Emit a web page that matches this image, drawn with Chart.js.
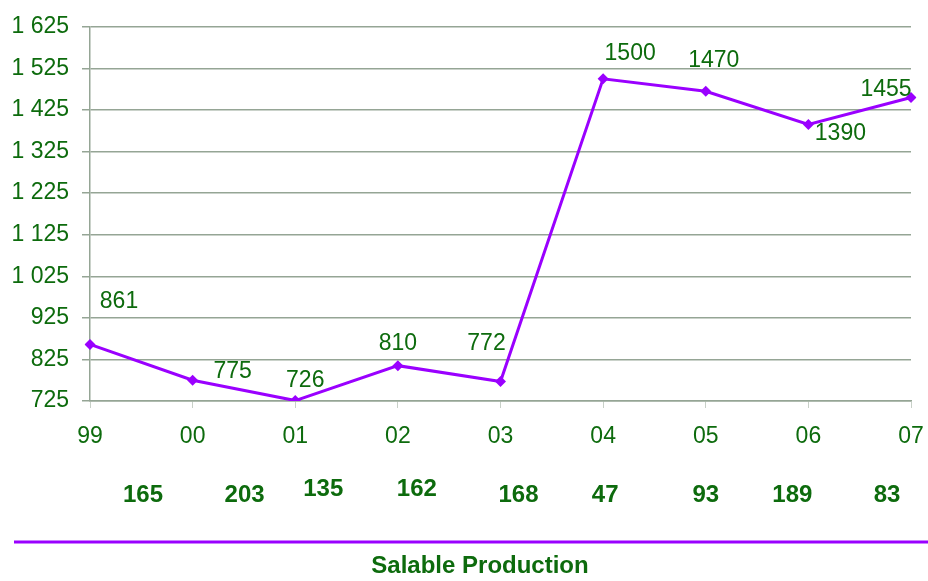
<!DOCTYPE html>
<html>
<head>
<meta charset="utf-8">
<script src="https://cdn.jsdelivr.net/npm/chart.js@4/dist/chart.umd.min.js"></script>
<style>
  html, body { margin: 0; padding: 0; background: #ffffff; }
  #wrap { width: 928px; height: 581px; }
</style>
</head>
<body>
<div id="wrap"><canvas id="c" width="928" height="581"></canvas></div>
<script>
// Yearly values
const years = ['99', '00', '01', '02', '03', '04', '05', '06', '07'];
const salable = [861, 775, 726, 810, 772, 1500, 1470, 1390, 1455];
const secondRow = [165, 203, 135, 162, 168, 47, 93, 189, 83];
const yMin = 725, yMax = 1625, yStep = 100;
const title = 'Salable Production';

const GREEN = '#0d6b0d';
const PURPLE = '#9a00ff';
const GRID = '#95a595';
const FONT = '"Liberation Sans", Arial, sans-serif';

// label placement relative to each point (px)
const valueLabelOffsets = [[29, -43], [40, -9], [10, -20], [0, -22], [-14, -38], [27, -25], [8, -31], [32, 9], [-25, -8]];
// bottom row placement relative to each category (px)
const rowOffsets = [[53, 0], [52, 0], [28, -6], [19, -6], [18, 0], [2, 0], [0, 0], [-16, 0], [-24, 0]];

const fmt = v => {
  const s = String(v);
  return s.length > 3 ? s.slice(0, s.length - 3) + ' ' + s.slice(-3) : s;
};

const annotate = {
  id: 'annotate',
  afterDatasetsDraw(chart) {
    const ctx = chart.ctx;
    const meta = chart.getDatasetMeta(0);
    const xs = chart.scales.x;
    ctx.save();
    ctx.fillStyle = GREEN;
    ctx.textAlign = 'center';
    ctx.textBaseline = 'middle';
    ctx.font = '23px ' + FONT;
    meta.data.forEach((pt, i) => {
      const [dx, dy] = valueLabelOffsets[i];
      ctx.fillText(String(salable[i]), pt.x + dx, pt.y + dy);
    });
    ctx.font = 'bold 24px ' + FONT;
    const rowY = chart.chartArea.bottom + 94;
    secondRow.forEach((v, i) => {
      const [dx, dy] = rowOffsets[i];
      ctx.fillText(String(v), xs.getPixelForValue(i) + dx, rowY + dy);
    });
    // separator rule
    const ruleY = chart.chartArea.bottom + 141;
    ctx.strokeStyle = PURPLE;
    ctx.lineWidth = 3;
    ctx.beginPath();
    ctx.moveTo(14, ruleY);
    ctx.lineTo(chart.width, ruleY);
    ctx.stroke();
    ctx.fillText(title, 480, ruleY + 24);
    ctx.restore();
  }
};

new Chart(document.getElementById('c'), {
  type: 'line',
  data: {
    labels: years,
    datasets: [{
      data: salable,
      borderColor: PURPLE,
      backgroundColor: PURPLE,
      borderWidth: 3,
      pointStyle: 'rectRot',
      pointRadius: 5.5,
      pointBorderWidth: 0,
      tension: 0
    }]
  },
  options: {
    responsive: false,
    animation: false,
    devicePixelRatio: 1,
    layout: { padding: { top: 23, right: 17, bottom: 0, left: 0 } },
    plugins: { legend: { display: false }, tooltip: { enabled: false } },
    scales: {
      x: {
        offset: false,
        afterFit(scale) {
          scale.height = 180;
          scale.paddingLeft = 0;
          scale.paddingRight = 0;
        },
        grid: { drawOnChartArea: false, drawTicks: true, tickLength: 7, color: '#c8d0c8' },
        border: { display: true, color: GRID, width: 1.5 },
        ticks: { color: GREEN, padding: 15, font: { family: FONT, size: 23 }, maxRotation: 0 }
      },
      y: {
        min: yMin,
        max: yMax,
        afterFit(scale) { scale.width = 90; },
        afterBuildTicks(scale) {
          const t = [];
          for (let v = yMin; v <= yMax; v += yStep) t.push({ value: v });
          scale.ticks = t;
        },
        grid: { color: GRID, lineWidth: 1.5, tickLength: 8 },
        border: { display: true, color: GRID, width: 1.5 },
        ticks: {
          color: GREEN,
          padding: 13,
          font: { family: FONT, size: 23 },
          callback: v => fmt(v)
        }
      }
    }
  },
  plugins: [annotate]
});
</script>
</body>
</html>
